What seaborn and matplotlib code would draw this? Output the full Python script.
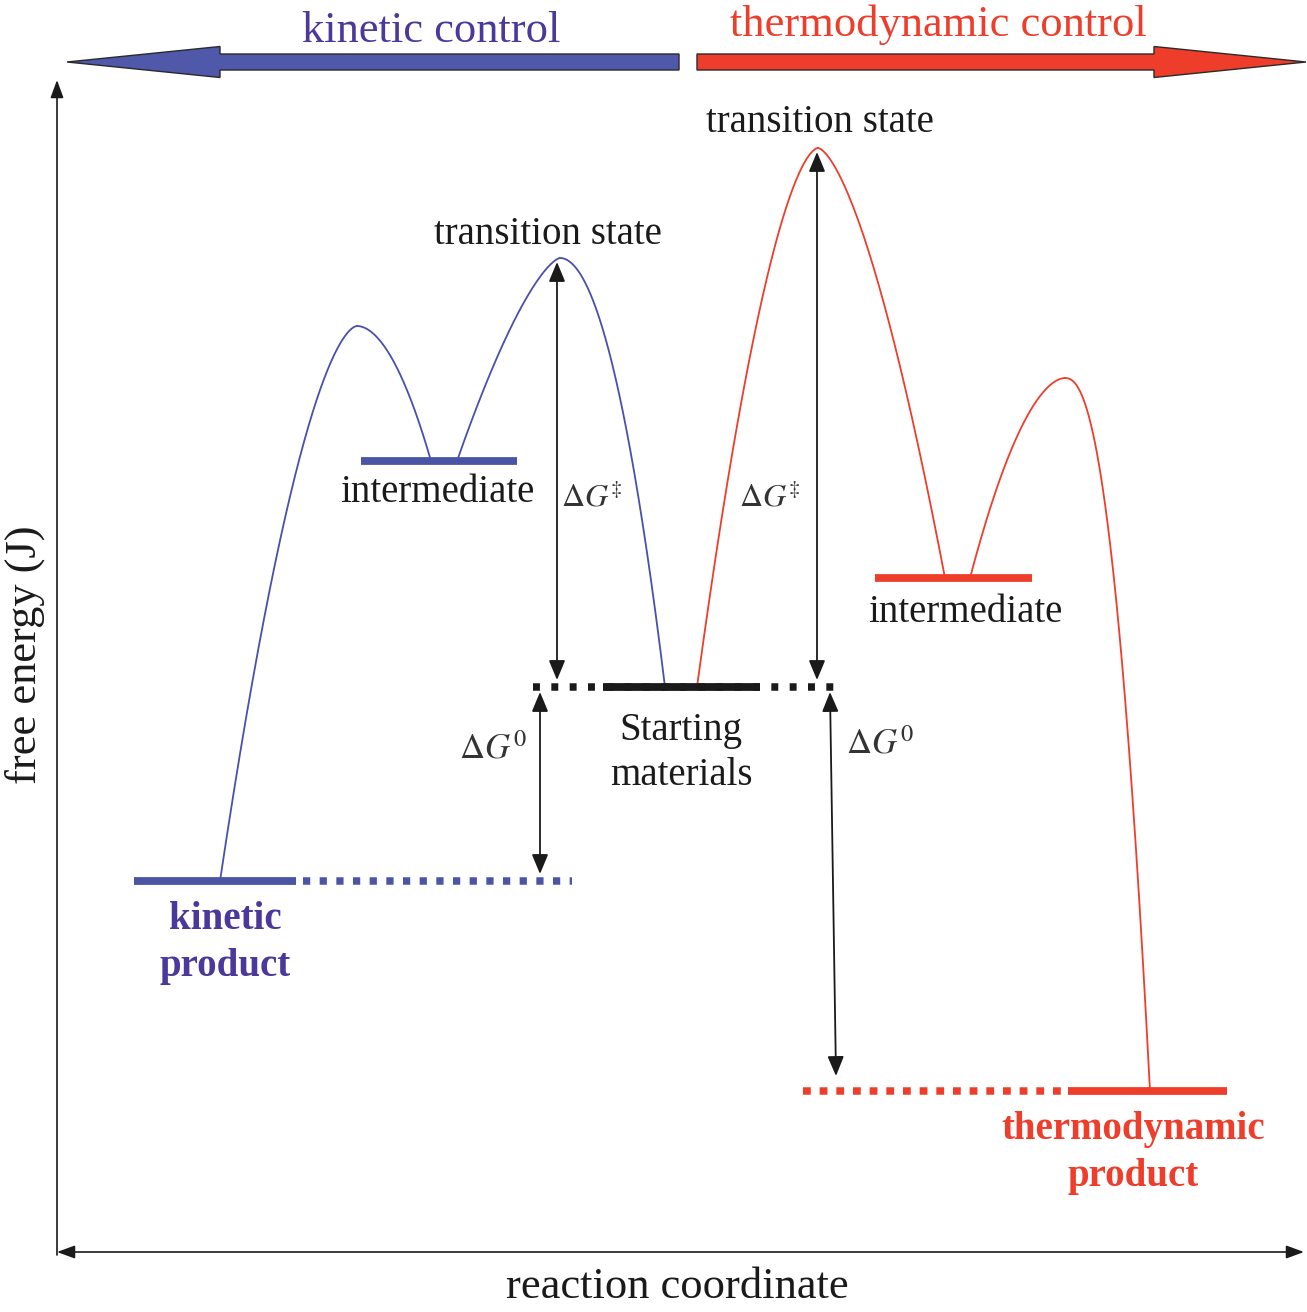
import numpy as np
import pandas as pd
import matplotlib
matplotlib.use("Agg")
import matplotlib.pyplot as plt
import matplotlib.patches as mpatches
import seaborn as sns

# ---------------- data ----------------
# free energy (arbitrary units, relative to starting materials)
G_start = 0
G_kin_prod = -194
G_kin_int = 226
G_kin_ts1 = 361
G_kin_ts2 = 429
G_th_prod = -404
G_th_int = 109
G_th_ts1 = 539
G_th_ts2 = 309

# reaction-coordinate positions of the path nodes
kinetic_x = [220, 357, 431, 457, 560, 665]
kinetic_G = [G_kin_prod, G_kin_ts1, G_kin_int, G_kin_int, G_kin_ts2, G_start]
thermo_x = [697, 818, 945, 970, 1065, 1150]
thermo_G = [G_start, G_th_ts1, G_th_int, G_th_int, G_th_ts2, G_th_prod]
kinetic_shape = [1.65, 1.9, 1.45, 2.0]
thermo_shape = [1.65, 1.55, 1.8, 2.3]

level_names = ["kinetic product", "kinetic intermediate", "starting materials",
               "thermodynamic intermediate", "thermodynamic product"]
level_G = [G_kin_prod, G_kin_int, G_start, G_th_int, G_th_prod]
level_x0 = [134, 361, 603, 875, 1068]
level_x1 = [296, 517, 760, 1032, 1227]

dotted_G = [G_kin_prod, G_start, G_th_prod]
dotted_x0 = [303, 533, 803]
dotted_x1 = [572, 837, 1062]

# ---------------- style ----------------
BLUE_CURVE = "#4a4fae"
BLUE_LEVEL = "#4a55a6"
BLUE_TEXT = "#4a389a"
BLUE_ARROW = "#5058aa"
RED = "#ee3e2b"
BLACK = "#1a1a1a"

sns.set_theme(style="white")
plt.rcParams["font.family"] = ["Liberation Serif", "DejaVu Serif"]
plt.rcParams["mathtext.fontset"] = "stix"
plt.rcParams["lines.scale_dashes"] = False

fig = plt.figure(figsize=(13.07, 13.12), dpi=100)
ax = fig.add_axes([0, 0, 1, 1])


def build_path(xs, gs, shapes, name):
    rows = []
    seg_pairs = [(0, 1), (1, 2), (3, 4), (4, 5)]
    for k, (a, b) in enumerate(seg_pairs):
        xa, xb, ga, gb = xs[a], xs[b], gs[a], gs[b]
        p = shapes[k]
        xx = np.linspace(xa, xb, 200)
        if gb > ga:
            t = (xb - xx) / (xb - xa)
            g = gb - (gb - ga) * t ** p
        else:
            t = (xx - xa) / (xb - xa)
            g = ga - (ga - gb) * t ** p
        for xv, gv in zip(xx, g):
            rows.append((name, f"{name}-{k}", xv, gv))
    return rows


rows = build_path(kinetic_x, kinetic_G, kinetic_shape, "kinetic") + \
    build_path(thermo_x, thermo_G, thermo_shape, "thermo")
paths = pd.DataFrame(rows, columns=["path", "seg", "x", "G"])
sns.lineplot(data=paths, x="x", y="G", hue="path", units="seg", estimator=None,
             sort=False, palette={"kinetic": BLUE_CURVE, "thermo": RED},
             lw=1.3, legend=False, ax=ax)
ax.set_xlabel("")
ax.set_ylabel("")
ax.set_xlim(0, 1307)
ax.set_ylim(687 - 1312, 687)
ax.axis("off")

# dotted extension lines
dot_colors = [BLUE_LEVEL, BLACK, RED]
dot_styles = [(0, (5.2, 6.8)), (0, (5.0, 8.2)), (0, (5.6, 6.4))]
for g, x0, x1, c, ls in zip(dotted_G, dotted_x0, dotted_x1, dot_colors, dot_styles):
    ax.plot([x0, x1], [g, g], color=c, lw=5.4, ls=ls, solid_capstyle="butt",
            dash_capstyle="butt", zorder=2)

# solid energy levels
level_colors = [BLUE_LEVEL, BLUE_LEVEL, BLACK, RED, RED]
for g, x0, x1, c in zip(level_G, level_x0, level_x1, level_colors):
    ax.plot([x0, x1], [g, g], color=c, lw=5.6, solid_capstyle="butt", zorder=3)

# ΔG arrows
arrow_kw = dict(arrowstyle="<|-|>,head_length=0.6,head_width=0.25",
                mutation_scale=20, lw=1.3, color=BLACK, shrinkA=0, shrinkB=0)
ax.annotate("", xy=(557, G_kin_ts2 - 4), xytext=(557, G_start + 7), arrowprops=arrow_kw)
ax.annotate("", xy=(540, G_start - 5), xytext=(540, G_kin_prod + 7), arrowprops=arrow_kw)
ax.annotate("", xy=(817, G_th_ts1 - 4), xytext=(817, G_start + 7), arrowprops=arrow_kw)
ax.annotate("", xy=(830, G_start - 5), xytext=(836, G_th_prod + 15), arrowprops=arrow_kw)

# coordinate axes
axis_kw = dict(arrowstyle="-|>,head_length=0.6,head_width=0.22", mutation_scale=18,
               lw=1.2, color=BLACK, shrinkA=0, shrinkB=0)
ax.annotate("", xy=(57, 607), xytext=(57, -568), arrowprops=axis_kw)
axis_kw2 = dict(axis_kw)
axis_kw2["arrowstyle"] = "<|-|>,head_length=0.6,head_width=0.22"
ax.annotate("", xy=(1304, -565), xytext=(57, -565), arrowprops=axis_kw2)

# top control arrows
ax.add_patch(mpatches.FancyArrow(679, 625, -612, 0, width=16, head_width=31,
                                 head_length=153, length_includes_head=True,
                                 fc=BLUE_ARROW, ec="#2a2a2a", lw=1.0, zorder=4))
ax.add_patch(mpatches.FancyArrow(697, 625, 609, 0, width=16, head_width=31,
                                 head_length=152, length_includes_head=True,
                                 fc=RED, ec="#2a2a2a", lw=1.0, zorder=4))

# texts
ax.text(431, 656, "kinetic control", color=BLUE_TEXT, fontsize=32, ha="center", va="center")
ax.text(938, 662, "thermodynamic control", color=RED, fontsize=32, ha="center", va="center")
ax.text(548, 453, "transition state", color=BLACK, fontsize=28, ha="center", va="center")
ax.text(820, 565, "transition state", color=BLACK, fontsize=28, ha="center", va="center")
ax.text(437, 195, "intermediate", color=BLACK, fontsize=28, ha="center", va="center")
ax.text(965, 75, "intermediate", color=BLACK, fontsize=28, ha="center", va="center")
ax.text(592, 189, r"$\Delta G^{\ddagger}$", color="#333333", fontsize=23, ha="center", va="center")
ax.text(770, 189, r"$\Delta G^{\ddagger}$", color="#333333", fontsize=23, ha="center", va="center")
ax.text(493, -63, r"$\Delta G^{0}$", color="#333333", fontsize=25, ha="center", va="center")
ax.text(880, -58, r"$\Delta G^{0}$", color="#333333", fontsize=25, ha="center", va="center")
ax.text(681, -66, "Starting\nmaterials", color=BLACK, fontsize=28, ha="center", va="center",
        linespacing=1.3)
ax.text(225, -256, "kinetic\nproduct", color=BLUE_TEXT, fontsize=28, fontweight="bold",
        ha="center", va="center", linespacing=1.38)
ax.text(1133, -466, "thermodynamic\nproduct", color=RED, fontsize=28, fontweight="bold",
        ha="center", va="center", linespacing=1.38)
ax.text(25, 32, "free energy (J)", color=BLACK, fontsize=32, rotation=90,
        ha="center", va="center")
ax.text(677, -600, "reaction coordinate", color=BLACK, fontsize=32, ha="center", va="center")

fig.savefig("out.png", dpi=100, facecolor="white")
